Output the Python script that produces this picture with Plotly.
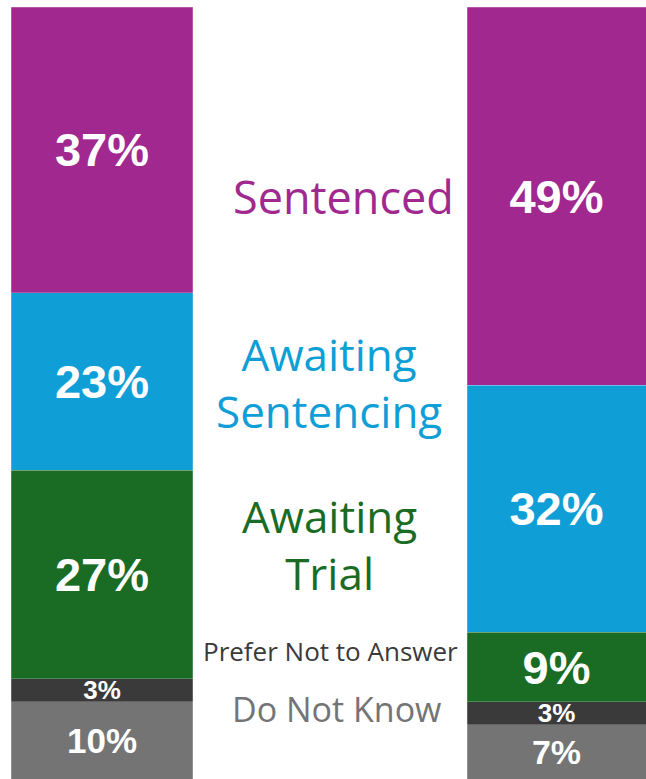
import plotly.graph_objects as go

groups = ["Group A", "Group B"]
categories = ["Do Not Know", "Prefer Not to Answer", "Awaiting Trial",
              "Awaiting Sentencing", "Sentenced"]
do_not_know = [10, 7]
prefer_not = [3, 3]
awaiting_trial = [27, 9]
awaiting_sentencing = [23, 32]
sentenced = [37, 49]
series = [do_not_know, prefer_not, awaiting_trial, awaiting_sentencing, sentenced]

colors = ["#747474", "#3A3A3A", "#1A6B24", "#0F9ED5", "#A0288F"]
label_sizes = [[35, 34], [26, 26], [47, 47], [47, 47], [47, 47]]

W, H = 646, 779
ml, mr, mt, mb = 11, 0, 7, 0
bar_widths = [0.4004, 0.3938]
x_range = [-0.2002, 1.1969]

fig = go.Figure()
xs = [0, 1]
for name, vals, col, sz in zip(categories, series, colors, label_sizes):
    fig.add_trace(go.Bar(
        x=xs, y=vals, name=name, width=bar_widths,
        marker=dict(color=col, line=dict(color="rgba(255,255,255,0.35)", width=0.6)),
        text=[f"{v}%" for v in vals],
        textposition="inside", insidetextanchor="middle",
        constraintext="none",
        textfont=dict(family="Liberation Sans, Arial, sans-serif", size=sz,
                      color="white", weight="bold"),
        hoverinfo="skip",
    ))

fig.update_layout(
    barmode="stack",
    width=W, height=H,
    margin=dict(l=ml, r=mr, t=mt, b=mb, pad=0),
    paper_bgcolor="white", plot_bgcolor="white",
    showlegend=False,
    xaxis=dict(range=x_range, visible=False, fixedrange=True),
    yaxis=dict(range=[0, 100], visible=False, fixedrange=True),
)

plot_w = W - ml - mr
plot_h = H - mt - mb

def px(x):
    return (x - ml) / plot_w

def py(y):
    return (H - mb - y) / plot_h

mid_font = "Open Sans, sans-serif"
labels = [
    ("Sentenced", 343.5, 196, 45, "#A0288F"),
    ("Awaiting<br>Sentencing", 329, 383, 44, "#0F9ED5"),
    ("Awaiting<br>Trial", 330, 544, 44, "#1A6B24"),
    ("Prefer Not to Answer", 330.5, 651, 26, "#3A3A3A"),
    ("Do Not Know", 336, 709, 34, "#747474"),
]
for txt, x, y, s, c in labels:
    fig.add_annotation(
        text=txt, x=px(x), y=py(y), xref="paper", yref="paper",
        xanchor="center", yanchor="middle", showarrow=False,
        font=dict(family=mid_font, size=s, color=c),
    )

fig.write_html(
    "out.html",
    config={"displayModeBar": False, "staticPlot": True},
    post_script="document.body.style.margin='0';document.body.style.overflow='hidden';",
)
